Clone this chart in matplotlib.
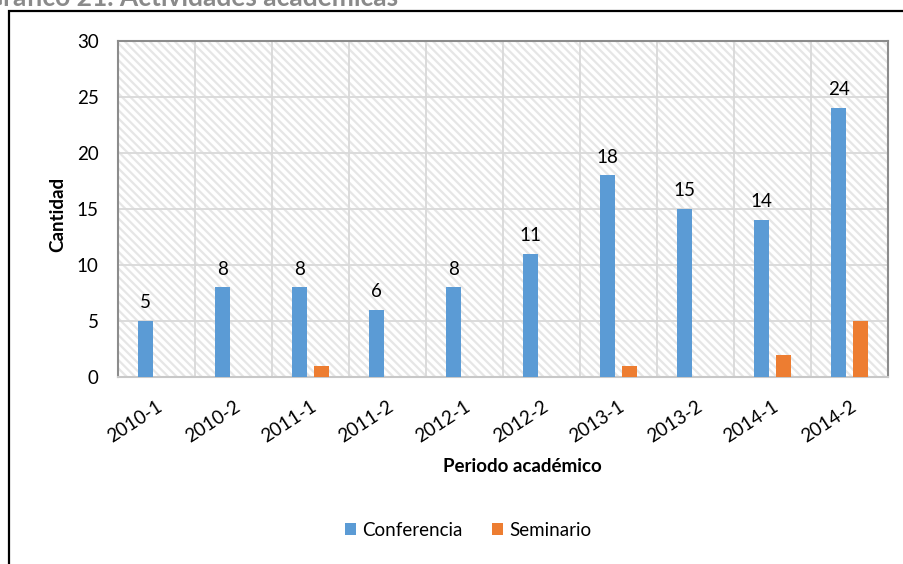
import matplotlib
matplotlib.use('Agg')
import matplotlib.pyplot as plt
import numpy as np
from matplotlib.patches import Rectangle
# ------------------------------ #

periods = ['2010-1', '2010-2', '2011-1', '2011-2', '2012-1', '2012-2', '2013-1', '2013-2', '2014-1', '2014-2']
conferencia = [5, 8, 8, 6, 8, 11, 18, 15, 14, 24]
seminario = [0, 0, 1, 0, 0, 0, 1, 0, 2, 5]
yTicks = [0, 5, 10, 15, 20, 25, 30]
# ------------------------------ #

plt.rcParams['font.family'] = ['Lato', 'DejaVu Sans']
plt.rcParams['hatch.linewidth'] = 1.6

blue = '#5B9BD5'
orange = '#ED7D31'
gridGrey = '#d9d9d9'
fs = 13.5

fig = plt.figure(figsize = (9.04, 5.64), dpi = 100)
ax = fig.add_axes([118 / 904, 1 - 377 / 564, 770 / 904, 336 / 564])

x = np.arange(len(periods))
barW = 0.2
off = 0.14

# hatched plot area background
ax.add_patch(Rectangle((0, 0), 1, 1, transform = ax.transAxes, facecolor = 'white',
	edgecolor = '#e6e6e6', hatch = '\\\\\\\\', linewidth = 0, zorder = 0))

ax.bar(x - off, conferencia, width = barW, color = blue, zorder = 3, label = 'Conferencia')
ax.bar(x + off, seminario, width = barW, color = orange, zorder = 3, label = 'Seminario')

for xi, v in zip(x, conferencia):
	ax.annotate(f'{v}', xy = (xi - off, v), xytext = (0, 7), textcoords = 'offset points',
		ha = 'center', va = 'bottom', fontsize = fs, color = 'black')

ax.set_xlim(-0.5, len(periods) - 0.5)
ax.set_ylim(0, 30)
ax.set_yticks(yTicks)
ax.set_xticks(x)
ax.set_xticklabels(periods, rotation = 33, ha = 'right', rotation_mode = 'anchor')
ax.tick_params(axis = 'both', length = 0, labelsize = fs, colors = 'black')
ax.tick_params(axis = 'x', pad = 15)
ax.tick_params(axis = 'y', pad = 14)

# grid: horizontal at ticks, vertical at category boundaries
for yv in yTicks[1:]:
	ax.axhline(yv, color = gridGrey, linewidth = 1.3, zorder = 1)
for b in np.arange(0.5, len(periods) - 0.5, 1):
	ax.axvline(b, color = gridGrey, linewidth = 1.3, zorder = 1)

for side in ['left', 'top', 'right']:
	ax.spines[side].set_color('#8c8c8c')
	ax.spines[side].set_linewidth(1.5)
ax.spines['bottom'].set_color('#c8c8c8')
ax.spines['bottom'].set_linewidth(1.5)

fig.text(58 / 904, 1 - 214 / 564, 'Cantidad', rotation = 90, ha = 'center', va = 'center',
	fontsize = fs, fontweight = 'bold')
fig.text(522 / 904, 1 - 466 / 564, 'Periodo académico', ha = 'center', va = 'center',
	fontsize = fs, fontweight = 'bold')

fig.legend(loc = 'center', bbox_to_anchor = (468 / 904, 1 - 530 / 564), ncol = 2, frameon = False,
	fontsize = fs, handlelength = 0.6, handleheight = 0.6, handletextpad = 0.3, columnspacing = 1.6)

# outer chart frame and cut-off caption
fig.patches.append(Rectangle((9 / 904, -0.2), 1.2, 1.2 - 11 / 564, transform = fig.transFigure,
	fill = False, edgecolor = 'black', linewidth = 1.6, zorder = 5))
fig.text(-16 / 904, 1 - 6 / 564, 'Gráfico 21. Actividades académicas', ha = 'left', va = 'baseline',
	fontsize = 19, fontweight = 'bold', color = '#8a8a8a')

fig.savefig('out.png', dpi = 100)
